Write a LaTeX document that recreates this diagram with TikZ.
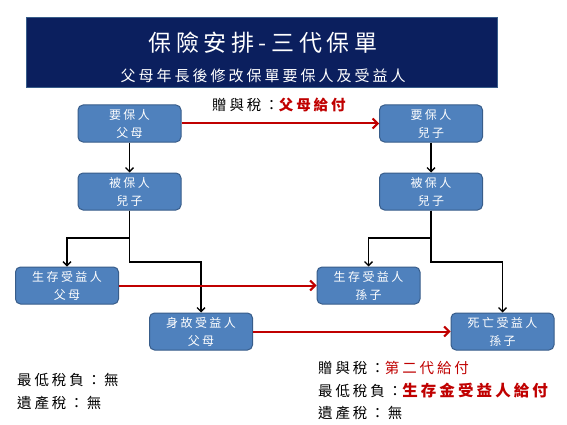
\documentclass[tikz,border=0pt]{standalone}
\usepackage{fontspec}
\setmainfont{Noto Sans CJK TC}[LetterSpace=20]
\usetikzlibrary{arrows.meta}
\definecolor{navy}{HTML}{0B1F5E}
\definecolor{boxfill}{HTML}{4F81BD}
\definecolor{boxline}{HTML}{385D8A}
\definecolor{darkred}{HTML}{C00000}
\begin{document}
\begin{tikzpicture}[x=1pt,y=-1pt,
  box/.style={rectangle,rounded corners=5pt,fill=boxfill,draw=boxline,line width=1pt,
    minimum width=103pt,minimum height=37pt,inner sep=0pt,align=center,text=white,
    font=\fontsize{12}{18}\selectfont},
  blk/.style={draw=black,line width=1.3pt,-{Straight Barb[length=4pt,width=8pt]}},
  redarr/.style={draw=darkred,line width=2pt,-{Straight Barb[length=5pt,width=10pt]}},
  lbl/.style={anchor=west,inner sep=0pt,font=\fontsize{14.5}{16}\selectfont}]
\fill[white] (0,0) rectangle (567,425);
\useasboundingbox (0,0) rectangle (567,425);
\node[fill=navy,draw=boxline,line width=0.6pt,minimum width=471pt,minimum height=70pt,inner sep=0pt,anchor=north west] (banner) at (26,17) {};
\node[text=white,inner sep=0pt,font=\fontsize{23}{25}\selectfont] (title) at (263,43) {保險安排-三代保單};
\node[text=white,inner sep=0pt,font=\fontsize{15}{17}\selectfont] (sub) at (263,76) {父母年長後修改保單要保人及受益人};

\node[box] (a1) at (129.5,123.5) {要保人\\父母};
\node[box] (b1) at (129.5,191.5) {被保人\\兒子};
\node[box] (a2) at (431,123.5) {要保人\\兒子};
\node[box] (b2) at (431,191.5) {被保人\\兒子};
\node[box] (c1) at (67,285.5) {生存受益人\\父母};
\node[box] (d1) at (201,331.5) {身故受益人\\父母};
\node[box] (c2) at (368.5,285.5) {生存受益人\\孫子};
\node[box] (d2) at (502.5,331.5) {死亡受益人\\孫子};

\coordinate (j1) at (129.5,238);
\coordinate (k1) at (129.5,262);
\coordinate (j2) at (431,238);
\coordinate (k2) at (431,262);

\draw[blk] (a1) -- (b1);
\draw[blk] (a2) -- (b2);
\draw[blk] (b1.south) -- (j1) -| (c1.north);
\draw[blk] (b1.south) -- (k1) -| (d1.north);
\draw[blk] (b2.south) -- (j2) -| (c2.north);
\draw[blk] (b2.south) -- (k2) -| (d2.north);

\draw[redarr] (a1) -- (a2);
\draw[redarr] (c1) -- (c2);
\draw[redarr] (d1) -- (d2);

\node[lbl] (gift1) at (212,105) {贈與稅：\textcolor{darkred}{\bfseries 父母給付}};

\node[lbl] (min1) at (17,380) {最低稅負：無};
\node[lbl] (est1) at (17,403) {遺產稅：無};

\node[lbl] (gift2) at (318,368) {贈與稅：\textcolor{darkred}{第二代給付}};
\node[lbl] (min2) at (318,391) {最低稅負：\textcolor{darkred}{\fontsize{15.5}{16}\selectfont\bfseries 生存金受益人給付}};
\node[lbl] (est2) at (318,413) {遺產稅：無};
\end{tikzpicture}
\end{document}
